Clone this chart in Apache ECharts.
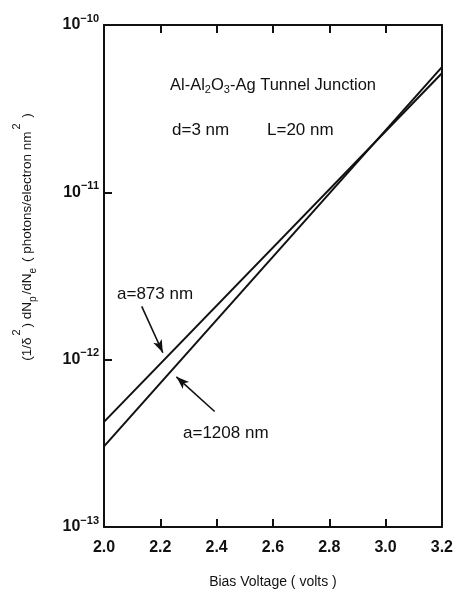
<!DOCTYPE html>
<html>
<head>
<meta charset="utf-8">
<script src="https://cdn.jsdelivr.net/npm/echarts@6/dist/echarts.min.js"></script>
<style>
  html, body { margin: 0; padding: 0; background: #fff; }
  #chart { width: 456px; height: 594px; }
</style>
</head>
<body>
<div id="chart"></div>
<script>
// Bias voltage end points (volts) of each computed curve
const voltage = [2.0, 3.2];
// Emission yield (photons / electron nm^2) for the two roughness wavelengths
const yield873 = [4.25e-13, 5.15e-11];
const yield1208 = [3.03e-13, 5.6e-11];
// Axis ticks
const xTicks = [2.0, 2.2, 2.4, 2.6, 2.8, 3.0, 3.2];
const yExponents = [-13, -12, -11, -10];

const FONT = '"Liberation Sans", Arial, Helvetica, sans-serif';
const INK = '#111';

const chart = echarts.init(document.getElementById('chart'), null, { renderer: 'canvas' });

const pairs = (ys) => voltage.map((v, i) => [v, ys[i]]);

const axisCommon = {
  axisLine: { show: true, onZero: false, lineStyle: { color: INK, width: 2 } },
  splitLine: { show: false }
};

const arrowLine = (from, to) => ({
  silent: true, animation: false,
  symbol: ['none', 'arrow'], symbolSize: [7, 13],
  label: { show: false },
  lineStyle: { color: INK, width: 1.6, type: 'solid' },
  data: [[{ coord: from }, { coord: to }]]
});

chart.setOption({
  animation: false,
  backgroundColor: '#fff',
  grid: { left: 104, right: 13, top: 25, bottom: 59, containLabel: false },
  xAxis: [
    Object.assign({
      type: 'value', position: 'bottom',
      min: xTicks[0], max: xTicks[xTicks.length - 1], interval: 0.2,
      axisTick: { show: true, inside: true, length: 8, lineStyle: { color: INK, width: 2 } },
      axisLabel: {
        margin: 13, color: INK, fontFamily: FONT, fontSize: 16, fontWeight: 'bold',
        formatter: (v) => v.toFixed(1)
      },
      name: 'Bias Voltage ( volts )', nameLocation: 'middle', nameGap: 48,
      nameTextStyle: { color: INK, fontFamily: FONT, fontSize: 14 }
    }, axisCommon),
    Object.assign({
      type: 'value', position: 'top',
      min: xTicks[0], max: xTicks[xTicks.length - 1], interval: 0.2,
      axisTick: { show: true, inside: true, length: 8, lineStyle: { color: INK, width: 2 } },
      axisLabel: { show: false }
    }, axisCommon)
  ],
  yAxis: [
    Object.assign({
      type: 'log', logBase: 10, position: 'left',
      min: Math.pow(10, yExponents[0]), max: Math.pow(10, yExponents[yExponents.length - 1]),
      axisTick: { show: true, inside: true, length: 8, lineStyle: { color: INK, width: 2 } },
      minorTick: { show: false },
      axisLabel: {
        margin: 5, color: INK, fontFamily: FONT,
        formatter: (v) => '{b|10}{s|\u2212' + Math.abs(Math.round(Math.log10(v))) + '}',
        rich: {
          b: { fontSize: 16, fontWeight: 'bold', fontFamily: FONT, color: INK, lineHeight: 24, verticalAlign: 'middle' },
          s: { fontSize: 11, fontWeight: 'bold', fontFamily: FONT, color: INK, lineHeight: 12, verticalAlign: 'top' }
        }
      }
    }, axisCommon),
    Object.assign({
      type: 'log', logBase: 10, position: 'right',
      min: Math.pow(10, yExponents[0]), max: Math.pow(10, yExponents[yExponents.length - 1]),
      axisTick: { show: false }, axisLabel: { show: false }
    }, axisCommon)
  ],
  series: [
    {
      name: 'a=873 nm', type: 'line', data: pairs(yield873),
      showSymbol: false, lineStyle: { color: INK, width: 2 },
      markLine: arrowLine([2.134, 2.08e-12], [2.209, 1.1e-12])
    },
    {
      name: 'a=1208 nm', type: 'line', data: pairs(yield1208),
      showSymbol: false, lineStyle: { color: INK, width: 2 },
      markLine: arrowLine([2.393, 4.9e-13], [2.257, 7.9e-13])
    }
  ],
  graphic: [
    {
      type: 'text', left: 170, top: 77,
      style: {
        text: '{m|Al-Al}{sub|2}{m|O}{sub|3}{m|-Ag Tunnel Junction}',
        rich: {
          m: { fontSize: 16.5, fontFamily: FONT, fill: INK, lineHeight: 20, verticalAlign: 'middle' },
          sub: { fontSize: 11, fontFamily: FONT, fill: INK, lineHeight: 10, verticalAlign: 'bottom' }
        }
      }
    },
    { type: 'text', left: 172, top: 122, style: { text: 'd=3 nm', fontFamily: FONT, fontSize: 17, fill: INK } },
    { type: 'text', left: 267, top: 122, style: { text: 'L=20 nm', fontFamily: FONT, fontSize: 17, fill: INK } },
    { type: 'text', left: 117, top: 286, style: { text: 'a=873 nm', fontFamily: FONT, fontSize: 17, fill: INK } },
    { type: 'text', left: 183, top: 425, style: { text: 'a=1208 nm', fontFamily: FONT, fontSize: 17, fill: INK } },
    {
      type: 'text', x: 27, y: 237, rotation: Math.PI / 2,
      style: {
        text: '{m|(1/\u03b4}{sup|2}{m|) dN}{sub|p}{m|/dN}{sub|e}{m| ( photons/electron nm}{sup|2}{m| )}',
        align: 'center', verticalAlign: 'middle',
        rich: {
          m: { fontSize: 13.5, fontFamily: FONT, fill: INK, lineHeight: 32, verticalAlign: 'middle' },
          sup: { fontSize: 11, fontFamily: FONT, fill: INK, verticalAlign: 'top', padding: [0, 2, 0, 2] },
          sub: { fontSize: 10, fontFamily: FONT, fill: INK, verticalAlign: 'bottom', padding: [0, 2, 5, 0] }
        }
      }
    }
  ]
});
</script>
</body>
</html>
